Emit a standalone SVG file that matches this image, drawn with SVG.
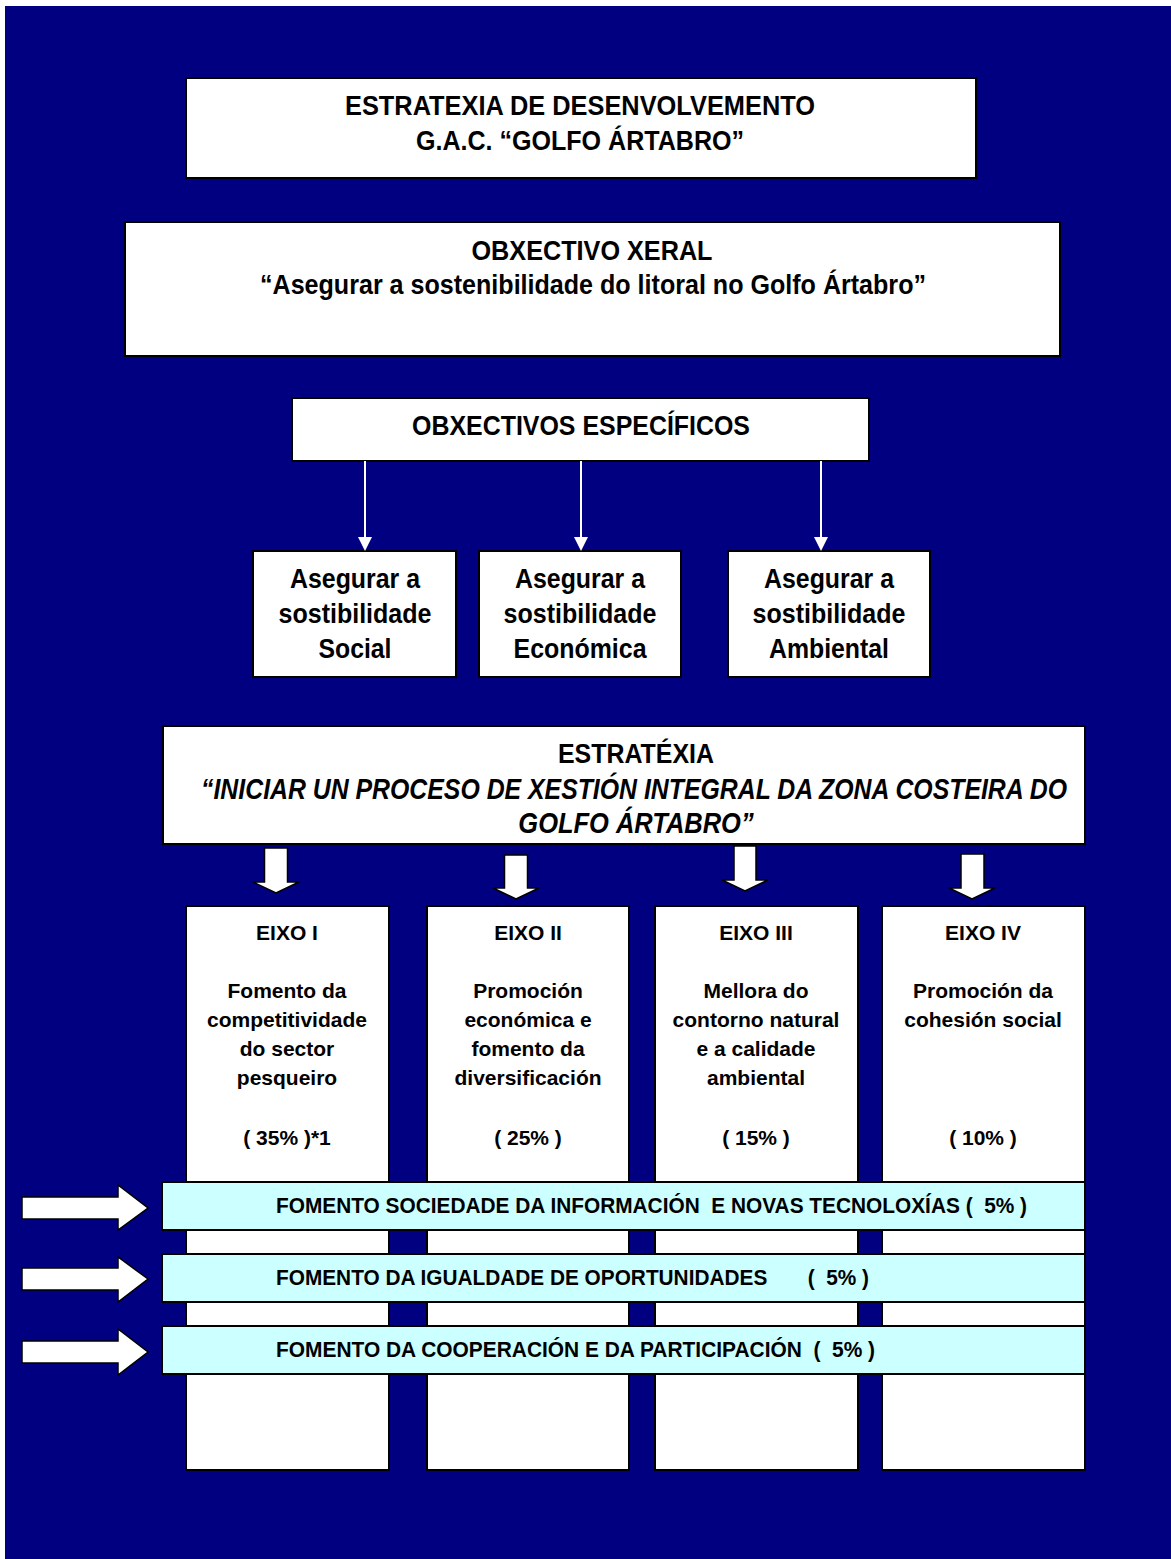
<svg xmlns="http://www.w3.org/2000/svg" width="1171" height="1559" viewBox="0 0 1171 1559">
<style>
text{font-family:"Liberation Sans",Arial,sans-serif;font-weight:bold;fill:#000;}
.box{fill:#fff;stroke:#000;stroke-width:2;}
.band{fill:#ccffff;stroke:#000;stroke-width:2;}
.h{font-size:27px;text-anchor:middle;}
.s{font-size:28px;text-anchor:middle;}
.e{font-size:21px;text-anchor:middle;}
.b{font-size:22px;}
.it{font-style:italic;font-size:30px;}
.blk{fill:#fff;stroke:#000;stroke-width:1.5;stroke-linejoin:miter;}
.thin{stroke:#fff;stroke-width:2;fill:none;}
.head{fill:#fff;stroke:none;}
</style>
<rect x="0" y="0" width="1171" height="1559" fill="#fff"/>
<rect x="5" y="6" width="1166" height="1553" fill="#000080"/>

<g id="titulo">
<rect class="box" x="186" y="78" width="790" height="100"/>
<text class="h" x="580" y="115" textLength="470" lengthAdjust="spacingAndGlyphs">ESTRATEXIA DE DESENVOLVEMENTO</text>
<text class="h" x="580" y="150" textLength="328" lengthAdjust="spacingAndGlyphs">G.A.C. “GOLFO ÁRTABRO”</text>
</g>

<g id="obxectivo-xeral">
<rect class="box" x="125" y="222" width="935" height="134"/>
<text class="h" x="592" y="260" textLength="241" lengthAdjust="spacingAndGlyphs">OBXECTIVO XERAL</text>
<text class="h" x="593" y="294" textLength="666" lengthAdjust="spacingAndGlyphs">“Asegurar a sostenibilidade do litoral no Golfo Ártabro”</text>
</g>

<g id="obxectivos-especificos">
<rect class="box" x="292" y="398" width="577" height="63"/>
<text class="h" x="581" y="435" textLength="338" lengthAdjust="spacingAndGlyphs">OBXECTIVOS ESPECÍFICOS</text>
</g>

<g id="social">
<rect class="box" x="253" y="551" width="203" height="126"/>
<text class="s" x="355" y="588" textLength="130" lengthAdjust="spacingAndGlyphs">Asegurar a</text>
<text class="s" x="355" y="623" textLength="153" lengthAdjust="spacingAndGlyphs">sostibilidade</text>
<text class="s" x="355" y="658" textLength="73" lengthAdjust="spacingAndGlyphs">Social</text>
</g>

<g id="economica">
<rect class="box" x="479" y="551" width="202" height="126"/>
<text class="s" x="580" y="588" textLength="130" lengthAdjust="spacingAndGlyphs">Asegurar a</text>
<text class="s" x="580" y="623" textLength="153" lengthAdjust="spacingAndGlyphs">sostibilidade</text>
<text class="s" x="580" y="658" textLength="133" lengthAdjust="spacingAndGlyphs">Económica</text>
</g>

<g id="ambiental">
<rect class="box" x="728" y="551" width="202" height="126"/>
<text class="s" x="829" y="588" textLength="130" lengthAdjust="spacingAndGlyphs">Asegurar a</text>
<text class="s" x="829" y="623" textLength="153" lengthAdjust="spacingAndGlyphs">sostibilidade</text>
<text class="s" x="829" y="658" textLength="120" lengthAdjust="spacingAndGlyphs">Ambiental</text>
</g>

<g id="estratexia">
<rect class="box" x="163" y="726" width="922" height="118"/>
<text class="h" x="636" y="763" textLength="156" lengthAdjust="spacingAndGlyphs">ESTRATÉXIA</text>
<text class="h it" transform="translate(634,799) scale(0.82,1)" x="0" y="0" textLength="1056" lengthAdjust="spacingAndGlyphs">“INICIAR UN PROCESO DE XESTIÓN INTEGRAL DA ZONA COSTEIRA DO</text>
<text class="h it" transform="translate(636,833) scale(0.82,1)" x="0" y="0" textLength="287" lengthAdjust="spacingAndGlyphs">GOLFO ÁRTABRO”</text>
</g>

<g id="eixo-1">
<rect class="box" x="186" y="906" width="203" height="564"/>
<text class="e" x="287" y="940">EIXO I</text>
<text class="e" x="287" y="998">Fomento da</text>
<text class="e" x="287" y="1027">competitividade</text>
<text class="e" x="287" y="1056">do sector</text>
<text class="e" x="287" y="1085">pesqueiro</text>
<text class="e" x="287" y="1145">( 35% )*1</text>
</g>

<g id="eixo-2">
<rect class="box" x="427" y="906" width="202" height="564"/>
<text class="e" x="528" y="940">EIXO II</text>
<text class="e" x="528" y="998">Promoción</text>
<text class="e" x="528" y="1027">económica e</text>
<text class="e" x="528" y="1056">fomento da</text>
<text class="e" x="528" y="1085">diversificación</text>
<text class="e" x="528" y="1145">( 25% )</text>
</g>

<g id="eixo-3">
<rect class="box" x="655" y="906" width="203" height="564"/>
<text class="e" x="756" y="940">EIXO III</text>
<text class="e" x="756" y="998">Mellora do</text>
<text class="e" x="756" y="1027">contorno natural</text>
<text class="e" x="756" y="1056">e a calidade</text>
<text class="e" x="756" y="1085">ambiental</text>
<text class="e" x="756" y="1145">( 15% )</text>
</g>

<g id="eixo-4">
<rect class="box" x="882" y="906" width="203" height="564"/>
<text class="e" x="983" y="940">EIXO IV</text>
<text class="e" x="983" y="998">Promoción da</text>
<text class="e" x="983" y="1027">cohesión social</text>
<text class="e" x="983" y="1145">( 10% )</text>
</g>

<g id="transversal-1">
<rect class="band" x="162" y="1182" width="923" height="48"/>
<text class="b" x="276" y="1213" textLength="751" lengthAdjust="spacingAndGlyphs" xml:space="preserve">FOMENTO SOCIEDADE DA INFORMACIÓN  E NOVAS TECNOLOXÍAS (  5% )</text>
</g>

<g id="transversal-2">
<rect class="band" x="162" y="1254" width="923" height="48"/>
<text class="b" x="276" y="1285" textLength="593" lengthAdjust="spacingAndGlyphs" xml:space="preserve">FOMENTO DA IGUALDADE DE OPORTUNIDADES       (  5% )</text>
</g>

<g id="transversal-3">
<rect class="band" x="162" y="1326" width="923" height="48"/>
<text class="b" x="276" y="1357" textLength="599" lengthAdjust="spacingAndGlyphs" xml:space="preserve">FOMENTO DA COOPERACIÓN E DA PARTICIPACIÓN  (  5% )</text>
</g>

<g id="connectors">
<line class="thin" x1="365" y1="461" x2="365" y2="538"/>
<polygon class="head" points="358,537 372,537 365,551"/>
<line class="thin" x1="581" y1="461" x2="581" y2="538"/>
<polygon class="head" points="574,537 588,537 581,551"/>
<line class="thin" x1="821" y1="461" x2="821" y2="538"/>
<polygon class="head" points="814,537 828,537 821,551"/>

<path class="blk" d="M264.5,848 H287.5 V882 H299 L276,893 L253,882 H264.5 Z"/>
<path class="blk" d="M504.5,855 H527.5 V888 H539 L516,899 L493,888 H504.5 Z"/>
<path class="blk" d="M734,846 H756 V880 H768 L745,891 L722,880 H734 Z"/>
<path class="blk" d="M961,854 H984 V888 H995 L972,899 L949,888 H961 Z"/>

<path class="blk" d="M22,1197 H118 V1185 L148,1208 L118,1230 V1219 H22 Z"/>
<path class="blk" d="M22,1268 H118 V1257 L148,1279 L118,1302 V1290 H22 Z"/>
<path class="blk" d="M22,1341 H118 V1329 L148,1352 L118,1375 V1363 H22 Z"/>
</g>
</svg>
